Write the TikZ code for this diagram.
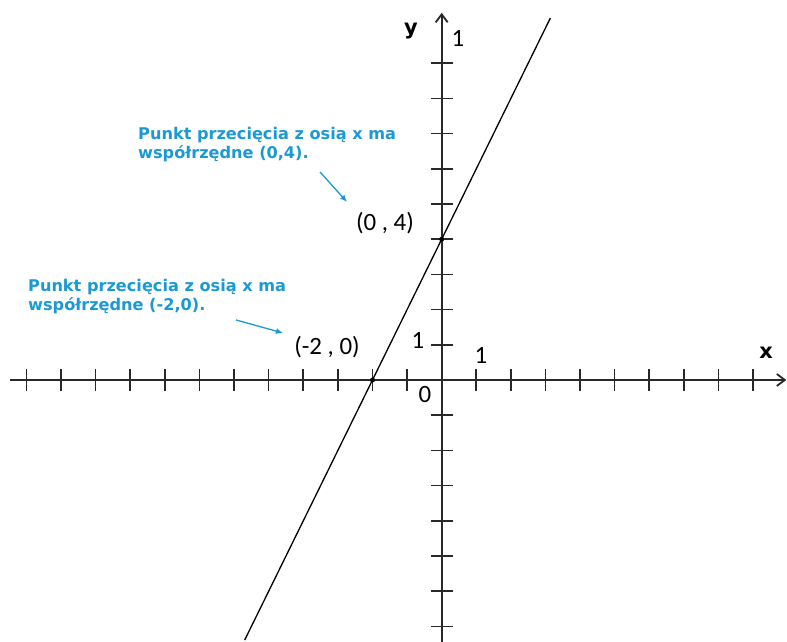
\documentclass[tikz,border=0pt]{standalone}
\usepackage{fontspec}
\newfontfamily\labfont{Carlito}
\newfontfamily\notefont{DejaVu Sans}
\usetikzlibrary{arrows.meta}
\definecolor{noteblue}{RGB}{27,153,213}
\definecolor{axisgray}{RGB}{40,40,40}

\begin{document}
\begin{tikzpicture}[x=34.6bp, y=35.2bp,
    axis/.style={draw=axisgray, line width=1.8bp, -{Straight Barb[length=8bp,width=12bp]}},
    tck/.style={draw=axisgray, line width=1.6bp},
    lbl/.style={font=\labfont\fontsize{25}{28}\selectfont, inner sep=0pt},
    axlbl/.style={font=\notefont\bfseries\fontsize{21}{24}\selectfont, inner sep=0pt},
    note/.style={font=\notefont\bfseries\fontsize{16.2}{20}\selectfont, text=noteblue,
                 align=left, inner sep=0pt, anchor=north west},
    callout/.style={-{Latex[length=7bp,width=6bp]}, noteblue, line width=1.3bp},
    pt/.style={fill=black, circle, inner sep=0pt, minimum size=5bp}]
    \useasboundingbox (-12.766,-7.443) rectangle (9.980,10.795);
    \draw[axis] (-12.48,0) -- (9.96,0);
    \draw[axis] (0,-7.443) -- (0,10.43);
    \foreach \i in {-12,...,-1,1,2,...,9}
      \draw[tck] (\i,-0.31) -- (\i,0.31);
    \foreach \j in {-7,...,-1,1,2,...,9}
      \draw[tck] (-0.32,\j) -- (0.32,\j);
    \draw[line width=1.3bp] plot[domain=-5.695:3.14] (\x,{2*\x+4});
    \node[pt] (p20) at (-2,0) {};
    \node[pt] (p04) at (0,4) {};
    \node[axlbl] (xlab) at (9.373,0.767) {x};
    \node[axlbl] (ylab) at (-0.887,9.915) {y};
    \node[lbl] (one) at (0.471,9.69) {1};
    \node[lbl] (onex) at (1.136,0.71) {1};
    \node[lbl] (oney) at (-0.685,1.136) {1};
    \node[lbl] (zero) at (-0.483,-0.426) {0};
    \node[lbl] (lab04) at (-1.639,4.46) {(0 , 4)};
    \node[lbl] (lab20) at (-3.315,0.9375) {(-2 , 0)};
    \node[note] (n04) at (-8.777,7.2) {Punkt przecięcia z osią x ma\\współrzędne (0,4).};
    \node[note] (n20) at (-11.957,2.88) {Punkt przecięcia z osią x ma\\współrzędne (-2,0).};
    \coordinate (c04s) at (-3.517,5.909);
    \coordinate (c04e) at (-2.737,5.057);
    \coordinate (c20s) at (-5.945,1.705);
    \coordinate (c20e) at (-4.587,1.335);
    \draw[callout] (c04s) -- (c04e);
    \draw[callout] (c20s) -- (c20e);
\end{tikzpicture}
\end{document}
